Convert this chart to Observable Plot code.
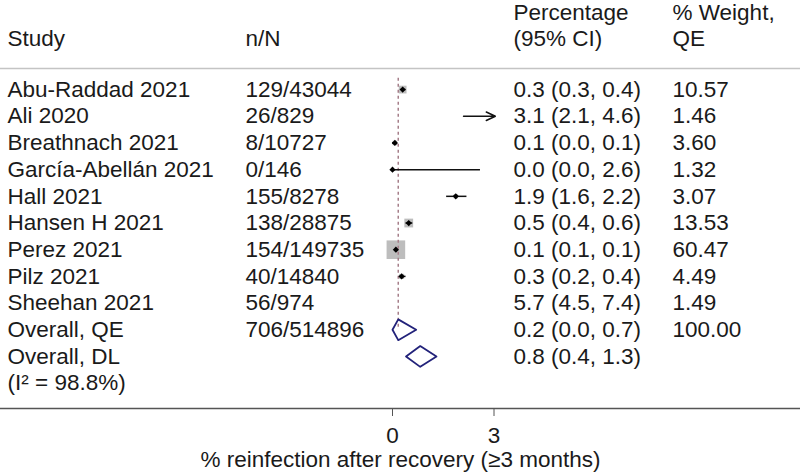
<!DOCTYPE html>
<html><head><meta charset="utf-8">
<script src="https://cdn.jsdelivr.net/npm/d3@7"></script>
<script src="https://cdn.jsdelivr.net/npm/@observablehq/plot@0.6"></script>
<style>body{margin:0;background:#fff} svg{display:block}</style>
</head><body><div id="chart"></div>
<script>
// ---- data ----
const headerTop = ["", "", "Percentage", "% Weight,"];
const headerBottom = ["Study", "n/N", "(95% CI)", "QE"];
const studies = ["Abu-Raddad 2021","Ali 2020","Breathnach 2021","García-Abellán 2021","Hall 2021","Hansen H 2021","Perez 2021","Pilz 2021","Sheehan 2021"];
const nN = ["129/43044","26/829","8/10727","0/146","155/8278","138/28875","154/149735","40/14840","56/974"];
const est = [0.30, 3.14, 0.07, 0.00, 1.87, 0.48, 0.10, 0.27, 5.75];
const lo  = [0.3, 2.1, 0.0, 0.0, 1.6, 0.4, 0.1, 0.2, 4.5];
const hi  = [0.4, 4.6, 0.1, 2.6, 2.2, 0.6, 0.1, 0.4, 7.4];
const pctLabels = ["0.3 (0.3, 0.4)","3.1 (2.1, 4.6)","0.1 (0.0, 0.1)","0.0 (0.0, 2.6)","1.9 (1.6, 2.2)","0.5 (0.4, 0.6)","0.1 (0.1, 0.1)","0.3 (0.2, 0.4)","5.7 (4.5, 7.4)"];
const weights = [10.57, 1.46, 3.60, 1.32, 3.07, 13.53, 60.47, 4.49, 1.49];

const overallNames = ["Overall, QE", "Overall, DL"];
const overallNN = ["706/514896", ""];
const overallEst = [0.17, 0.82];
const overallLo = [0.0, 0.4];
const overallHi = [0.7, 1.3];
const overallLabels = ["0.2 (0.0, 0.7)", "0.8 (0.4, 1.3)"];
const overallWeight = ["100.00", ""];
const heterogeneity = "(I² = 98.8%)";

const xTicks = [0, 3];
const xLabel = "% reinfection after recovery (≥3 months)";

// ---- build tables ----
const xMax = 3.04; // right edge of plot region (arrows clip here)
const studyRows = studies.map((s, i) => ({row: i, study: s, nN: nN[i], est: est[i], lo: lo[i], hi: hi[i], pct: pctLabels[i], w: weights[i], wLabel: weights[i].toFixed(2)}));
const overallRows = overallNames.map((s, i) => ({row: studies.length + i, study: s, nN: overallNN[i], est: overallEst[i], lo: overallLo[i], hi: overallHi[i], pct: overallLabels[i], wLabel: overallWeight[i]}));
const textRows = [...studyRows, ...overallRows, {row: studies.length + 2, study: heterogeneity, nN: "", pct: "", wLabel: ""}];
const qeRow = studies.length;

const dh = 0.39; // half-height of diamonds in row units
const diamondVerts = overallRows.flatMap((d, i) => [
  {id: i, x: d.lo, y: d.row}, {id: i, x: d.est, y: d.row - dh}, {id: i, x: d.hi, y: d.row},
  {id: i, x: d.est, y: d.row + dh}, {id: i, x: d.lo, y: d.row}
]);

const font = "'Liberation Sans', Arial, Helvetica, sans-serif";
const fs = 22.5;
const tc = "#1a1a1a";
const colDx = [7, 245, 513, 672];
const colKeys = ["study", "nN", "pct", "wLabel"];

const marks = [
  Plot.frame({anchor: "top", stroke: "#c4c4c4", strokeWidth: 1.5}),
  Plot.frame({anchor: "bottom", stroke: "#555", strokeWidth: 1.6}),
  // headers
  ...headerTop.map((t, i) => Plot.text([t], {text: d => d, frameAnchor: "top-left", lineAnchor: "middle", dx: colDx[i], dy: -56, textAnchor: "start", fontSize: fs, fill: tc})),
  ...headerBottom.map((t, i) => Plot.text([t], {text: d => d, frameAnchor: "top-left", lineAnchor: "middle", dx: colDx[i], dy: -30, textAnchor: "start", fontSize: fs, fill: tc})),
  // table columns
  ...colKeys.map((k, i) => Plot.text(textRows, {y: "row", text: k, frameAnchor: "left", lineAnchor: "middle", dx: colDx[i], textAnchor: "start", fontSize: fs, fill: tc})),
  // weight squares
  Plot.dot(studyRows.filter(d => d.est <= xMax), {x: "est", y: "row", r: "w", symbol: "square", fill: "#bdbdbd", stroke: "none"}),
  // reference dashed line at overall QE estimate
  Plot.ruleX([overallEst[0]], {x: d => d, y1: -0.42, y2: qeRow, stroke: "#a67f8a", strokeWidth: 1.5, strokeDasharray: "3,3"}),
  // CI lines
  Plot.ruleY(studyRows.filter(d => d.hi <= xMax), {y: "row", x1: "lo", x2: "hi", stroke: "#111", strokeWidth: 1.5}),
  Plot.arrow(studyRows.filter(d => d.lo < xMax && d.hi > xMax), {x1: "lo", x2: d => Math.min(d.hi, xMax), y1: "row", y2: "row", bend: 0, headLength: 10, headAngle: 50, stroke: "#111", strokeWidth: 1.5}),
  // point markers
  Plot.dot(studyRows.filter(d => d.est <= xMax), {x: "est", y: "row", r: 2.8, symbol: "diamond2", fill: "#000", stroke: "none"}),
  // overall diamonds
  Plot.line(diamondVerts, {x: "x", y: "y", z: "id", stroke: "#22227a", strokeWidth: 1.8, curve: "linear"}),
  // axis label
  Plot.text([xLabel], {text: d => d, frameAnchor: "bottom", lineAnchor: "middle", dy: 51, fontSize: fs, fill: tc})
];

if (Plot.axisX) {
  marks.push(Plot.axisX(xTicks, {anchor: "bottom", tickSize: 8, tickPadding: 11, stroke: "#555", fill: tc, fontSize: fs, label: null, tickFormat: d => String(d)}));
}

const chart = Plot.plot({
  width: 800,
  height: 472,
  marginTop: 68,
  marginBottom: 64,
  marginLeft: 0,
  marginRight: 0,
  style: {fontFamily: font, background: "#fff", overflow: "visible"},
  x: {domain: [0, 3], range: [392, 493.5], axis: Plot.axisX ? null : "bottom", ticks: xTicks, label: null},
  y: {domain: [-0.79, 11.95], reverse: true, axis: null},
  r: {type: "sqrt", domain: [0, 100], range: [0, 13.5]},
  marks
});
document.getElementById("chart").appendChild(chart);
</script>
</body></html>
